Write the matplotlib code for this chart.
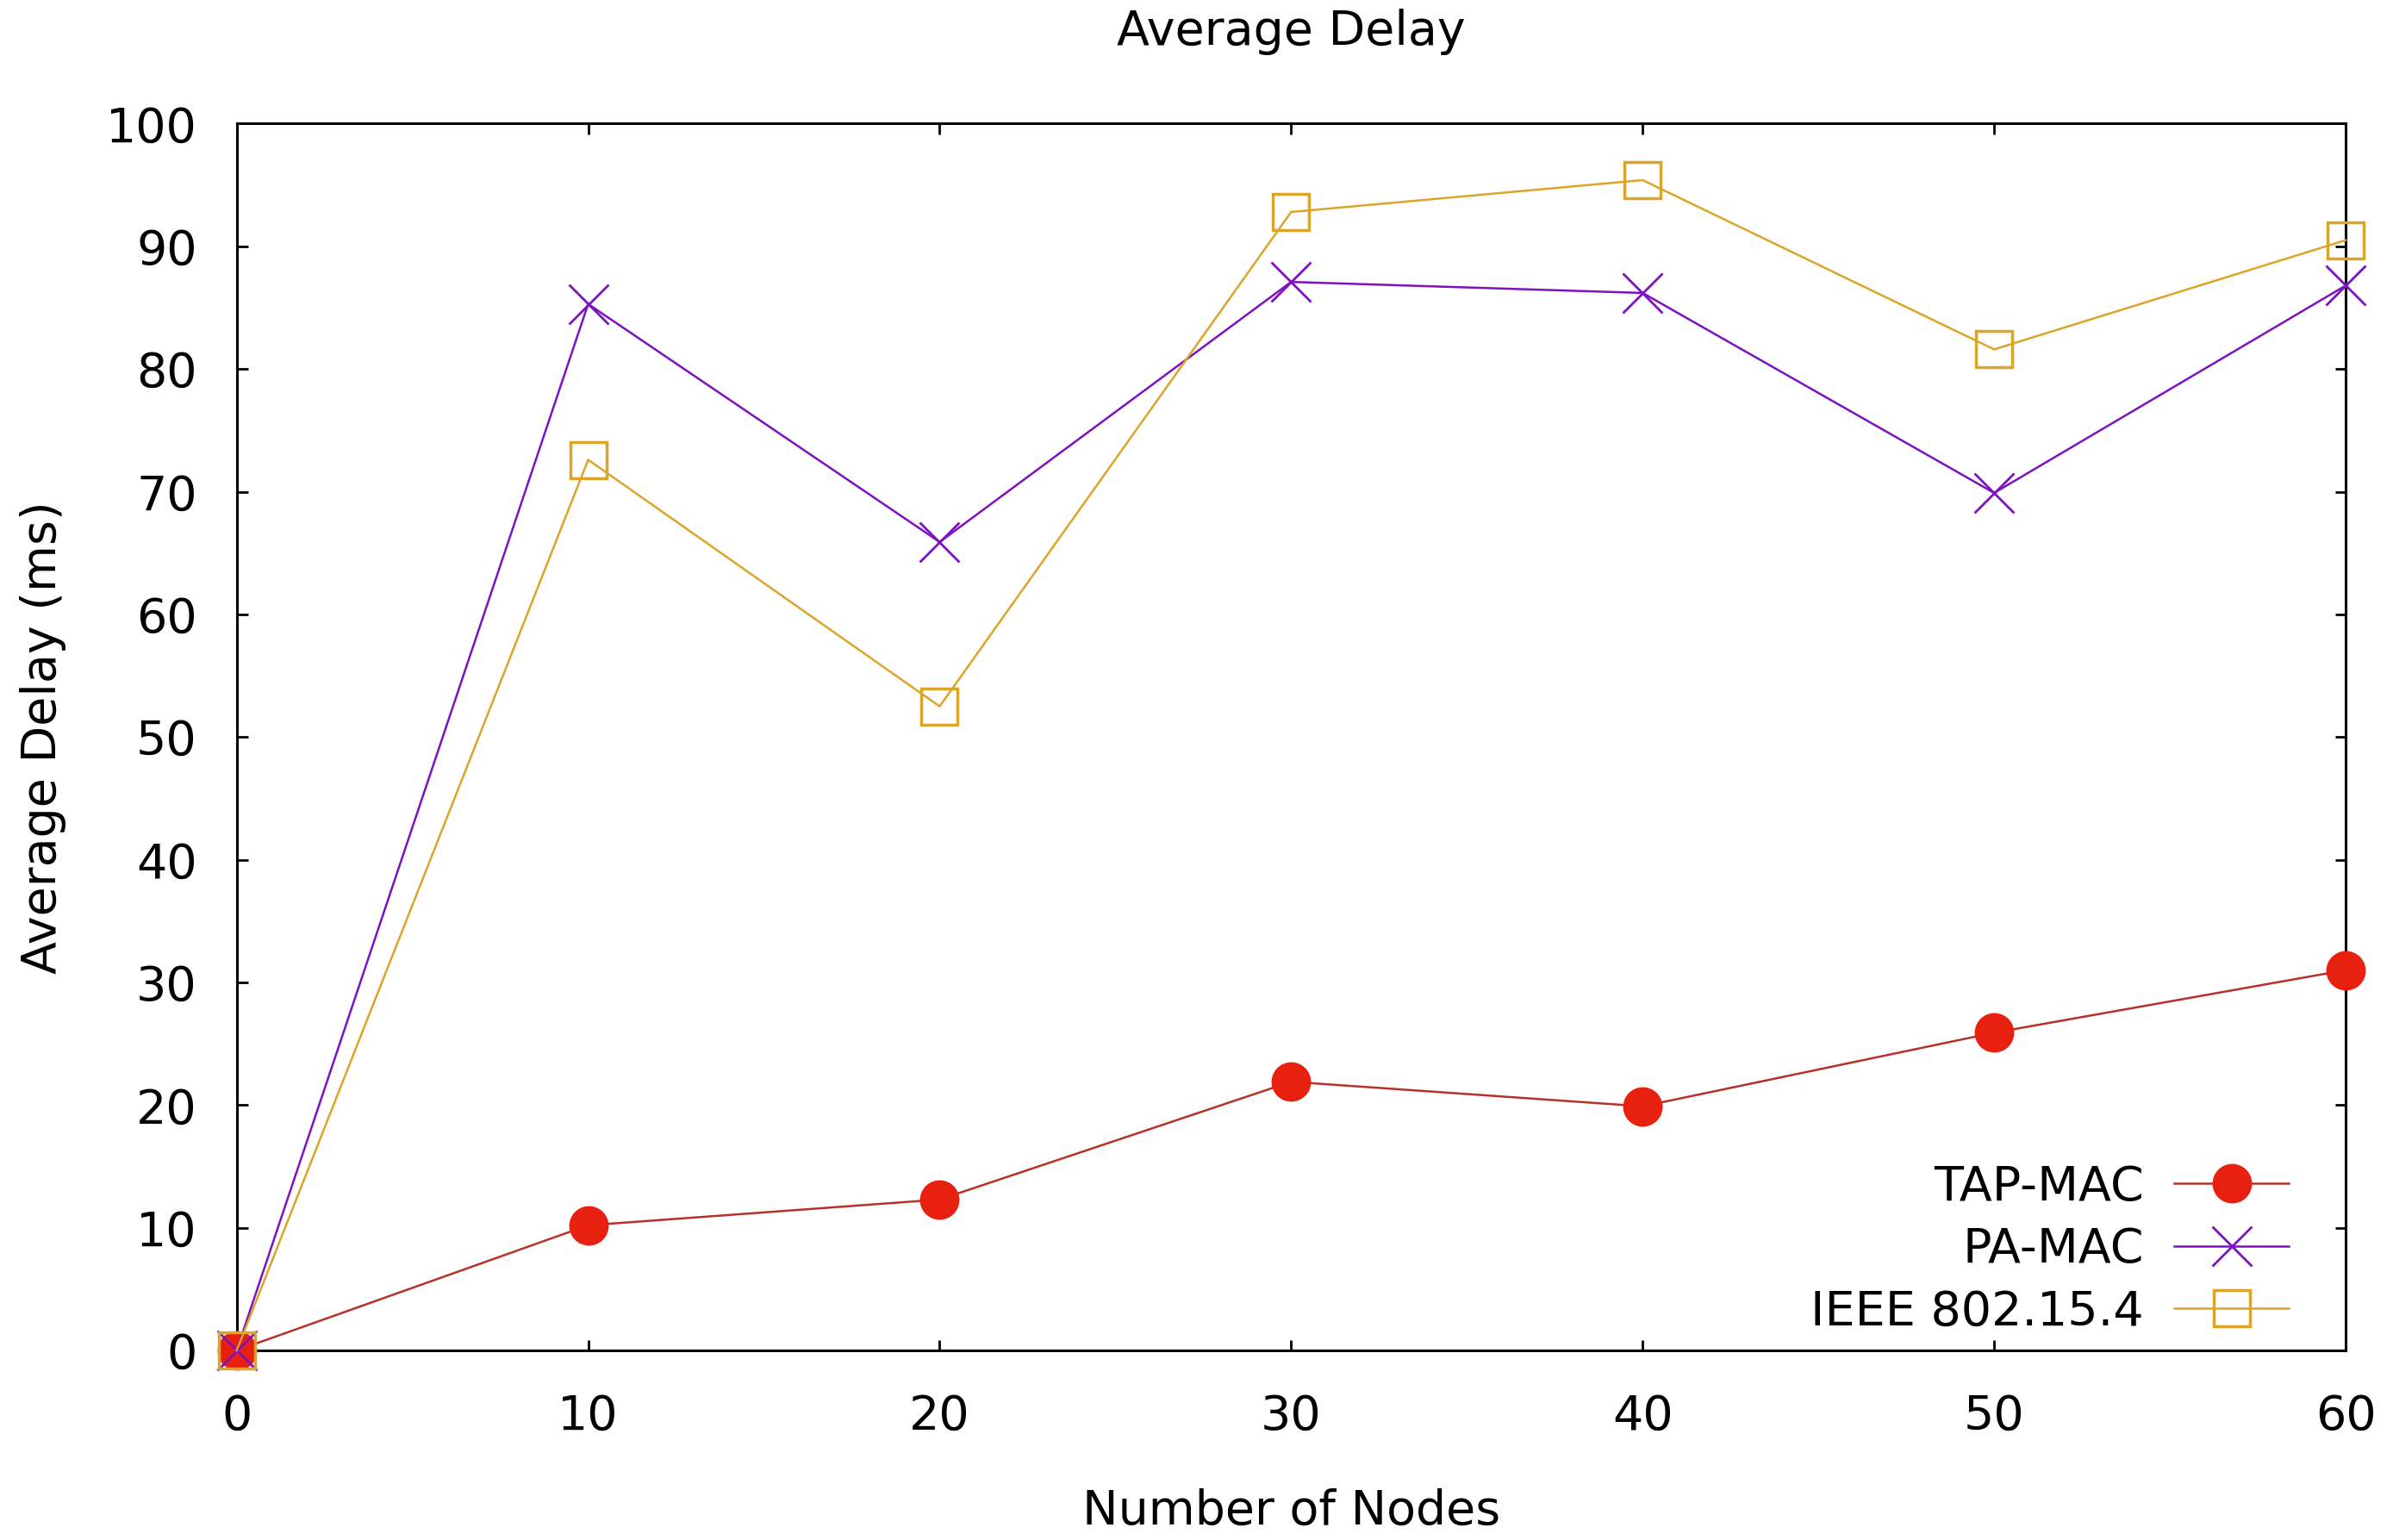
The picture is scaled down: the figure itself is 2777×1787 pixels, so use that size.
import matplotlib
matplotlib.use("Agg")
import matplotlib.pyplot as plt

nodes = [0, 10, 20, 30, 40, 50, 60]
tap_mac = [0, 10.2, 12.3, 21.9, 19.9, 25.9, 31.0]
pa_mac = [0, 85.3, 65.9, 87.1, 86.2, 69.9, 86.8]
ieee = [0, 72.6, 52.5, 92.8, 95.4, 81.6, 90.5]
series_names = ["TAP-MAC", "PA-MAC", "IEEE 802.15.4"]
x_ticks = [0, 10, 20, 30, 40, 50, 60]
y_ticks = [0, 10, 20, 30, 40, 50, 60, 70, 80, 90, 100]

plt.rcParams['font.family'] = ['DejaVu Sans']
FS = 40

fig = plt.figure(figsize=(27.77, 17.87), dpi=100)
ax = fig.add_axes([0.0989, 0.1231, 0.9802 - 0.0989, 0.9197 - 0.1231])

ax.plot(nodes, tap_mac, color='#b8302a', lw=1.8, marker='o', markersize=32,
        markerfacecolor='#e8200f', markeredgecolor='#e8200f', clip_on=False,
        label=series_names[0], zorder=3)
ax.plot(nodes, pa_mac, color='#7d12c0', lw=1.8, marker='x', markersize=33,
        markeredgewidth=2.0, clip_on=False, label=series_names[1], zorder=3)
ax.plot(nodes, ieee, color='#dba52a', lw=1.8, marker='s', markersize=30,
        markerfacecolor='none', markeredgecolor='#dba52a', markeredgewidth=2.5,
        clip_on=False, label=series_names[2], zorder=3)

ax.set_xlim(0, 60)
ax.set_ylim(0, 100)
ax.set_xticks(x_ticks)
ax.set_yticks(y_ticks)
ax.tick_params(direction='in', length=9, width=2, top=True, right=True,
               labelsize=FS)
ax.tick_params(axis='x', pad=36)
ax.tick_params(axis='y', pad=33)
for s in ax.spines.values():
    s.set_linewidth(2.2)

ax.set_title("Average Delay", fontsize=FS, pad=66)
ax.set_xlabel("Number of Nodes", fontsize=FS, labelpad=40)
ax.set_ylabel("Average Delay (ms)", fontsize=FS, labelpad=33)

leg = ax.legend(loc='lower right', frameon=False, fontsize=FS, markerfirst=False,
                handlelength=2.4, handletextpad=0.64, labelspacing=0.33,
                borderpad=0, borderaxespad=0, bbox_to_anchor=(0.9732, 0.0124))

fig.savefig("out.png", dpi=100)
